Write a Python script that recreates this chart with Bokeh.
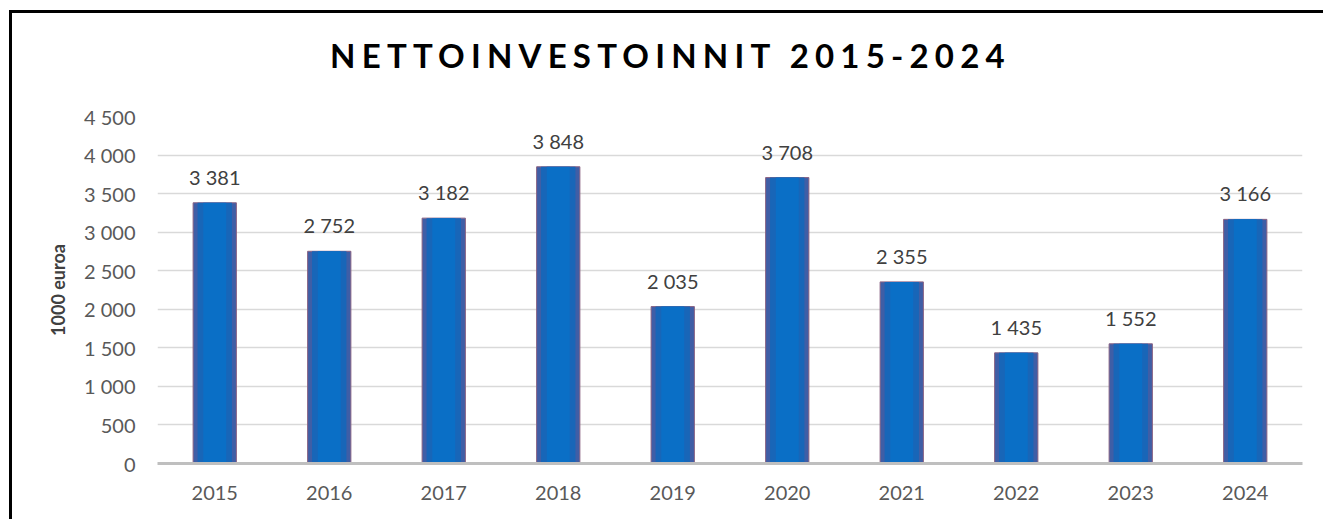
from bokeh.plotting import figure
from bokeh.models import FixedTicker, ColumnDataSource, Div
from bokeh.layouts import column, row
from bokeh.core.properties import value
from bokeh.embed import file_html
from bokeh.resources import INLINE

years = ["2015", "2016", "2017", "2018", "2019", "2020", "2021", "2022", "2023", "2024"]
values = [3381, 2752, 3182, 3848, 2035, 3708, 2355, 1435, 1552, 3166]
labels = ["3 381", "2 752", "3 182", "3 848", "2 035", "3 708", "2 355", "1 435", "1 552", "3 166"]
y_ticks = [0, 500, 1000, 1500, 2000, 2500, 3000, 3500, 4000, 4500]
y_tick_labels = ["0", "500", "1 000", "1 500", "2 000", "2 500", "3 000", "3 500", "4 000", "4 500"]
title_text = "NETTOINVESTOINNIT 2015-2024"
y_label = "1000 euroa"

src = ColumnDataSource(dict(x=years, top=values, label=labels))

FONT = "Lato"
W = 1296
WT = 1311

left_bar = Div(text='<div style="width:3px;height:509px;background:#000000;"></div>',
               width=3, height=509, margin=0)

title = Div(
    text=('<div style="border-top: 3px solid #000000; font-family: Lato; font-weight: bold; '
          'font-size: 33px; letter-spacing: 6.2px; line-height: 33px; text-align: center; '
          'color: #000; width: %dpx; height: 92px; padding-top: 26px; padding-left: 6px; '
          'box-sizing: border-box;">' % WT + title_text + '</div>'),
    width=WT, height=92, margin=0)

p = figure(x_range=years, y_range=(0, 4500), width=W, height=409,
           output_backend="svg", toolbar_location=None,
           min_border_left=145, min_border_right=6, min_border_top=14, min_border_bottom=48)
p.margin = 0
p.x_range.range_padding = 0

# bars with a simple shading effect
p.vbar(x="x", top="top", width=0.378, source=src, fill_color="#3f5ea6",
       line_color="#8a6283", line_width=1)
p.vbar(x="x", top="top", width=0.30, source=src, fill_color="#1866b8", line_color=None)
p.vbar(x="x", top="top", width=0.20, source=src, fill_color="#0a6fc6", line_color=None)

p.text(x="x", y="top", text="label", source=src, text_align="center",
       text_baseline="bottom", y_offset=-14, text_font=value(FONT),
       text_font_size="20px", text_color="#404040")

p.yaxis.ticker = FixedTicker(ticks=y_ticks)
p.yaxis.major_label_overrides = {t_: l for t_, l in zip(y_ticks, y_tick_labels)}
p.yaxis.axis_line_color = None
p.yaxis.major_tick_line_color = None
p.yaxis.minor_tick_line_color = None
p.yaxis.major_tick_out = 0
p.yaxis.major_tick_in = 0
p.yaxis.minor_tick_out = 0
p.yaxis.major_label_standoff = 22
p.yaxis.major_label_text_font = FONT
p.yaxis.major_label_text_font_size = "20px"
p.yaxis.major_label_text_color = "#595959"
p.yaxis.axis_label = y_label
p.yaxis.axis_label_text_font = FONT
p.yaxis.axis_label_text_font_size = "18px"
p.yaxis.axis_label_text_font_style = "bold"
p.yaxis.axis_label_text_color = "#404040"
p.yaxis.axis_label_standoff = 12

p.xaxis.axis_line_color = "#bfbfbf"
p.xaxis.axis_line_width = 3
p.xaxis.major_tick_line_color = None
p.xaxis.minor_tick_line_color = None
p.xaxis.major_tick_out = 0
p.xaxis.major_tick_in = 0
p.xaxis.major_label_standoff = 22
p.xaxis.major_label_text_font = FONT
p.xaxis.major_label_text_font_size = "20px"
p.xaxis.major_label_text_color = "#595959"

p.xgrid.grid_line_color = None
p.ygrid.grid_line_color = "#d9d9d9"
p.ygrid.grid_line_width = 1.5
p.outline_line_color = None

layout = row(left_bar, column(title, p, spacing=0), spacing=0)
layout.margin = (10, 0, 0, 9)

open("out.html", "w").write(file_html(layout, INLINE))
